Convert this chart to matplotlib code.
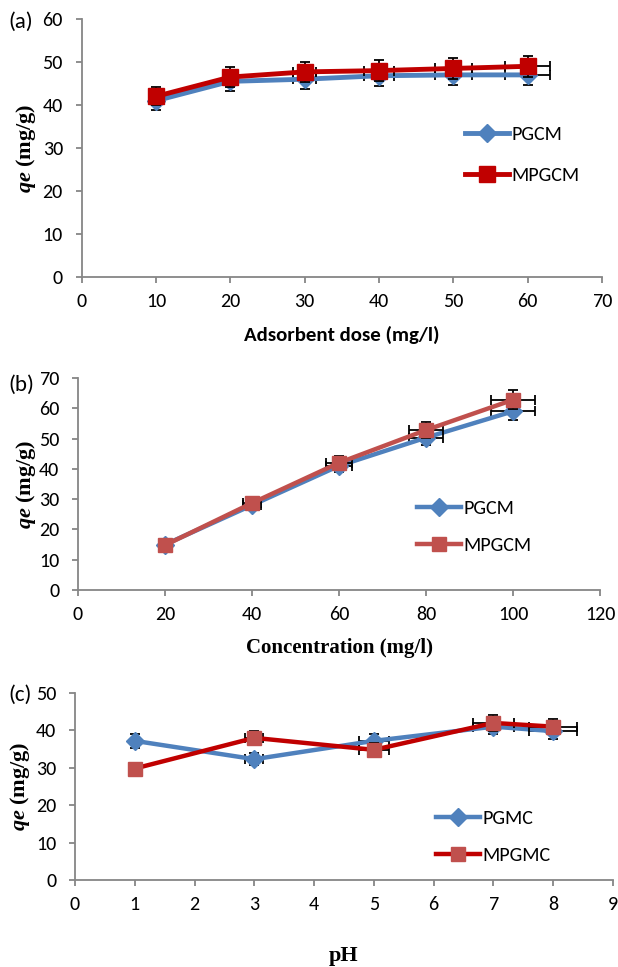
import matplotlib
matplotlib.use("Agg")
from matplotlib import pyplot as plt
import numpy as np

# (a) adsorbent dose
dose = [10, 20, 30, 40, 50, 60]
pgcm_dose = [41.0, 45.5, 46.0, 46.8, 47.0, 47.0]
mpgcm_dose = [42.0, 46.5, 47.7, 48.0, 48.5, 49.0]

# (b) concentration
conc = [20, 40, 60, 80, 100]
pgcm_conc = [15.0, 28.0, 41.0, 50.3, 59.0]
mpgcm_conc = [14.8, 28.7, 42.0, 52.8, 62.8]

# (c) pH
ph = [1, 3, 5, 7, 8]
pgmc_ph = [37.2, 32.3, 37.2, 41.0, 39.8]
mpgmc_ph = [29.8, 38.0, 34.8, 42.0, 41.0]

ERR = 0.05  # 5 % error bars in x and y

BLUE = '#4F81BD'
DARKRED = '#C00000'
RED = '#C0504D'
GRAY = '#868686'
SANS = 'Carlito'
SERIF = 'Liberation Serif'

plt.rcParams['mathtext.fontset'] = 'custom'
plt.rcParams['mathtext.it'] = 'Liberation Serif:italic:bold'

W, H = 618, 967
fig = plt.figure(figsize=(W / 100, H / 100), dpi=100)


def px_axes(left, top, right, bottom):
    # axes from pixel box (top-left origin)
    return fig.add_axes([left / W, 1 - bottom / H, (right - left) / W, (bottom - top) / H])


def style_axes(ax, xlim, xticks, ylim, yticks, ylab_px):
    ax.set_xlim(*xlim)
    ax.set_ylim(*ylim)
    ax.set_xticks(xticks)
    ax.set_yticks(yticks)
    for s in ('top', 'right'):
        ax.spines[s].set_visible(False)
    for s in ('left', 'bottom'):
        ax.spines[s].set_color(GRAY)
        ax.spines[s].set_linewidth(1.3)
    ax.tick_params(direction='out', length=4.5, width=1.3, color=GRAY, labelsize=14.5)
    ax.tick_params(axis='x', pad=7)
    ax.tick_params(axis='y', pad=9)
    for lab in ax.get_xticklabels() + ax.get_yticklabels():
        lab.set_fontfamily(SANS)
    ax.set_ylabel(r'$qe$ (mg/g)', fontsize=16, fontweight='bold',
                  fontfamily=SERIF, va='center')
    ax.yaxis.set_label_coords(ylab_px / W, 0.5, transform=fig.transFigure)
    ax.yaxis.label.set_y(ax.get_position().y0 + ax.get_position().height / 2)


def plot_series(ax, x, y, line_col, lw, mk, mk_col, ms, label, z):
    x = np.asarray(x, float)
    y = np.asarray(y, float)
    ax.errorbar(x, y, xerr=x * ERR, yerr=y * ERR, fmt='none', ecolor='black',
                elinewidth=1.3, capsize=3.5, capthick=1.3, zorder=z)
    ax.plot(x, y, color=line_col, lw=lw, marker=mk, ms=ms, mfc=mk_col,
            mec=mk_col, label=label, zorder=z + 0.5, clip_on=False)


def add_legend(ax, left, cy, spacing):
    ax.legend(loc='center left', bbox_to_anchor=(left / W, 1 - cy / H),
              bbox_transform=fig.transFigure, frameon=False,
              prop={'family': SANS, 'size': 14.5}, borderpad=0, borderaxespad=0,
              handlelength=2.2, handletextpad=0.1, labelspacing=spacing)


# ---- (a)
ax1 = px_axes(81.6, 19, 602, 277)
plot_series(ax1, dose, pgcm_dose, BLUE, 3.5, 'D', BLUE, 9, 'PGCM', 2)
plot_series(ax1, dose, mpgcm_dose, DARKRED, 3.5, 's', DARKRED, 12, 'MPGCM', 3)
style_axes(ax1, (0, 70), range(0, 71, 10), (0, 60), range(0, 61, 10), 25.6)
ax1.set_xlabel('Adsorbent dose (mg/l)', fontsize=15, fontweight='bold',
               fontfamily=SANS, va='top')
ax1.xaxis.set_label_coords(0.5, -0.19)
add_legend(ax1, 465, 155, 1.15)
fig.text(8 / W, 1 - 22 / H, '(a)', fontsize=16.5, fontfamily=SANS, va='center')

# ---- (b)
ax2 = px_axes(78, 378, 600, 590)
plot_series(ax2, conc, pgcm_conc, BLUE, 3.2, 'D', BLUE, 9, 'PGCM', 2)
plot_series(ax2, conc, mpgcm_conc, RED, 3.2, 's', RED, 10.5, 'MPGCM', 3)
style_axes(ax2, (0, 120), range(0, 121, 20), (0, 70), range(0, 71, 10), 25.6)
ax2.set_xlabel('Concentration (mg/l)', fontsize=15, fontweight='bold',
               fontfamily=SERIF, va='top')
ax2.xaxis.set_label_coords(0.5, -0.226)
add_legend(ax2, 417, 527, 1.0)
fig.text(8 / W, 1 - 385 / H, '(b)', fontsize=16.5, fontfamily=SANS, va='center')

# ---- (c)
ax3 = px_axes(75, 693, 613, 880)
plot_series(ax3, ph, pgmc_ph, BLUE, 3.2, 'D', BLUE, 9, 'PGMC', 2)
plot_series(ax3, ph, mpgmc_ph, DARKRED, 3.2, 's', RED, 10.5, 'MPGMC', 3)
style_axes(ax3, (0, 9), range(0, 10), (0, 50), range(0, 51, 10), 19.7)
ax3.set_xlabel('pH', fontsize=16, fontweight='bold', fontfamily=SERIF, va='top')
ax3.xaxis.set_label_coords(0.5, -0.355)
add_legend(ax3, 436, 837, 1.0)
fig.text(8 / W, 1 - 695 / H, '(c)', fontsize=16.5, fontfamily=SANS, va='center')

fig.savefig('out.png', dpi=100)
